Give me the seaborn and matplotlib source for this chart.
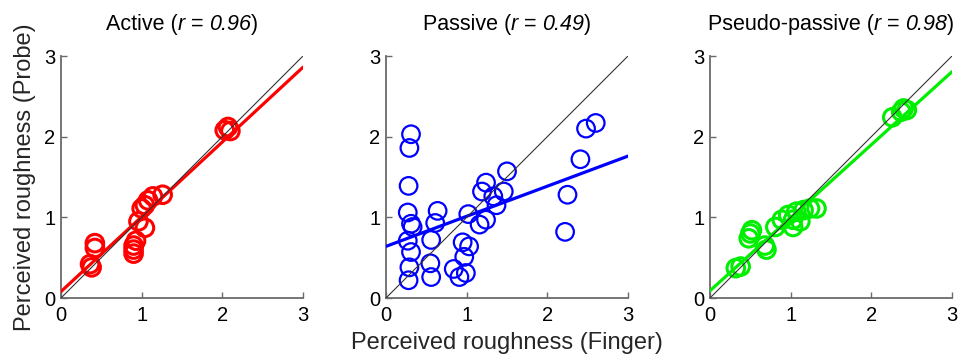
import matplotlib
matplotlib.use("Agg")
import matplotlib.pyplot as plt
import seaborn as sns
import numpy as np
import pandas as pd
from matplotlib.offsetbox import TextArea, HPacker, AnchoredOffsetbox

# ---- data ----
titles = ["Active", "Passive", "Pseudo-passive"]
r_values = ["0.96", "0.49", "0.98"]

active_x = [0.36, 0.38, 0.42, 0.42, 0.90, 0.90, 0.90, 0.93, 0.96, 1.04, 1.00, 1.04, 1.08, 1.14, 1.26, 2.03, 2.07, 2.10]
active_y = [0.42, 0.38, 0.68, 0.62, 0.65, 0.60, 0.55, 0.71, 0.95, 0.87, 1.11, 1.15, 1.21, 1.26, 1.28, 2.08, 2.12, 2.07]

passive_x = [0.31, 0.29, 0.28, 0.27, 0.31, 0.33, 0.27, 0.31, 0.29, 0.28, 0.64, 0.61, 0.56, 0.55, 0.56,
             0.84, 0.91, 0.99, 0.97, 0.95, 1.03, 1.02, 1.16, 1.24, 1.19, 1.24, 1.33, 1.37, 1.46, 1.50,
             2.25, 2.22, 2.41, 2.48, 2.60]
passive_y = [2.03, 1.86, 1.39, 1.06, 0.92, 0.88, 0.71, 0.57, 0.38, 0.22, 1.08, 0.93, 0.72, 0.43, 0.26,
             0.36, 0.26, 0.31, 0.51, 0.69, 0.64, 1.04, 0.91, 0.97, 1.32, 1.43, 1.26, 1.15, 1.32, 1.57,
             1.28, 0.82, 1.72, 2.10, 2.17]

pseudo_x = [0.32, 0.38, 0.48, 0.50, 0.52, 0.68, 0.70, 0.81, 0.89, 0.97, 1.03, 1.03, 1.07, 1.12, 1.16,
            1.24, 1.32, 2.26, 2.37, 2.40, 2.44]
pseudo_y = [0.37, 0.39, 0.74, 0.80, 0.84, 0.65, 0.60, 0.88, 0.97, 1.03, 0.97, 0.88, 1.07, 0.95, 1.09,
            1.11, 1.11, 2.24, 2.31, 2.35, 2.33]

fit_intercepts = [0.08, 0.64, 0.09]
fit_slopes = [0.927, 0.373, 0.905]

colors = ["#ff0000", "#0000ff", "#00ee00"]
ticks = [0, 1, 2, 3]

series = [(active_x, active_y), (passive_x, passive_y), (pseudo_x, pseudo_y)]

# ---- style ----
sns.set_theme(style="white")
plt.rcParams["font.family"] = ["Liberation Sans", "DejaVu Sans"]

fig = plt.figure(figsize=(9.7, 3.62), dpi=100)
lefts = [61 / 970, 386 / 970, 710 / 970]
W = 970.0
H = 362.0
ax_w = 242 / W
ax_h = 242 / H
bottom = (H - 298) / H

edge_widths = [2.2, 1.6, 2.2]
spine_col = "#6a6a6a"
tsize = 15.5
for i, (xs, ys) in enumerate(series):
    ax = fig.add_axes([lefts[i], bottom, ax_w, ax_h])
    df = pd.DataFrame({"x": xs, "y": ys})
    sns.scatterplot(data=df, x="x", y="y", ax=ax, marker="o", s=160,
                    color=colors[i], linewidth=edge_widths[i], legend=False, zorder=2)
    coll = ax.collections[-1]
    coll.set_facecolor("none")
    coll.set_edgecolor(colors[i])
    coll.set_clip_on(False)
    ax.set_xlim(0, 3)
    ax.set_ylim(0, 3)
    ax.axline((0, fit_intercepts[i]), slope=fit_slopes[i], color=colors[i], lw=2.3, zorder=3)
    ax.axline((0, 0), slope=1, color="#333333", lw=0.8, zorder=4)
    ax.set_xticks(ticks)
    ax.set_yticks(ticks)
    ax.tick_params(axis="x", pad=6)
    ax.tick_params(axis="y", pad=4)
    ax.tick_params(axis="both", direction="in", length=4, width=1, color=spine_col,
                   labelsize=14.5, labelcolor="black", bottom=True, left=True)
    for s in ["top", "right"]:
        ax.spines[s].set_visible(False)
    for s in ["left", "bottom"]:
        ax.spines[s].set_color(spine_col)
        ax.spines[s].set_linewidth(1.3)
    ax.set_xlabel("")
    ax.set_ylabel("")

    # title with italic "r" and italic value
    norm = dict(fontsize=tsize, color="black")
    ital = dict(fontsize=tsize, color="black", style="italic")
    parts = [TextArea(titles[i] + " (", textprops=norm),
             TextArea("r", textprops=ital),
             TextArea(" = ", textprops=norm),
             TextArea(r_values[i], textprops=ital),
             TextArea(")", textprops=norm)]
    pack = HPacker(children=parts, align="baseline", pad=0, sep=0)
    anch = AnchoredOffsetbox(loc="lower center", child=pack, pad=0, borderpad=0,
                             frameon=False, bbox_to_anchor=(0.5, 1.085),
                             bbox_transform=ax.transAxes)
    ax.add_artist(anch)

    if i == 0:
        ax.set_ylabel("Perceived roughness (Probe)", fontsize=17, labelpad=6)
    if i == 1:
        ax.set_xlabel("Perceived roughness (Finger)", fontsize=17, labelpad=5)

fig.savefig("out.png", dpi=100, facecolor="white")
